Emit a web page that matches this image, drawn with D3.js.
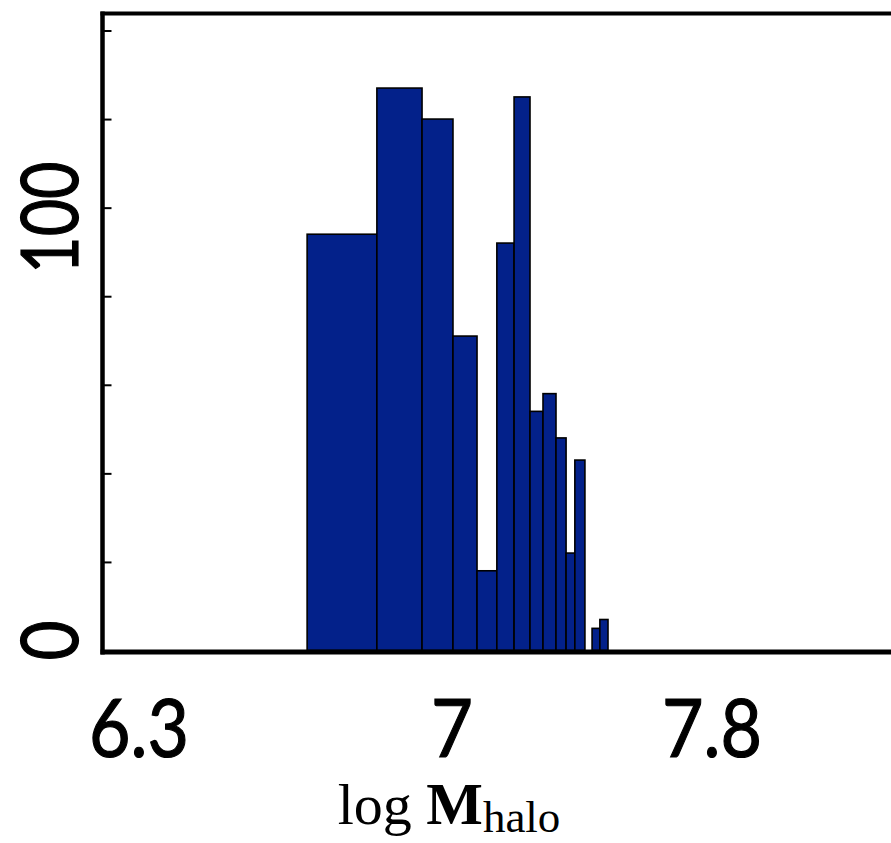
<!DOCTYPE html>
<html>
<head>
<meta charset="utf-8">
<script src="https://cdn.jsdelivr.net/npm/d3@7"></script>
<style>
  html, body { margin: 0; padding: 0; background: #fff; }
  svg { display: block; }
</style>
</head>
<body>
<svg id="chart" width="891" height="843"></svg>
<script>
// ---- data ----
const binEdges = [6.676, 6.832, 6.933, 7.003, 7.077, 7.138, 7.191, 7.240, 7.280, 7.320, 7.351, 7.378, 7.409, 7.431, 7.455, 7.480];
const counts   = [94, 127, 120, 71, 18, 92, 125, 54, 58, 48, 22, 43, 0, 5, 7];
const xTickLabels = [6.3, 7, 7.8];
const yMinorTicks = [20, 40, 60, 80, 100, 120, 140];
const yTickLabels = [0, 100];

// ---- layout ----
const svg = d3.select("#chart");
const W = 891, H = 843;
const plotLeft = 102.5, plotBottom = 650.5, plotTop = 13.5;

// the axis in the original is not uniform between the labelled ticks
const x = d3.scaleLinear().domain(xTickLabels).range([139, 452, 712]);
const y = d3.scaleLinear().domain([0, 140]).range([plotBottom, 30.5]);

const bins = counts.map((c, i) => ({ x0: binEdges[i], x1: binEdges[i + 1], n: c }));

// bars
svg.append("g").selectAll("rect")
  .data(bins.filter(d => d.n > 0))
  .join("rect")
  .attr("x", d => x(d.x0))
  .attr("y", d => y(d.n))
  .attr("width", d => x(d.x1) - x(d.x0))
  .attr("height", d => y(0) - y(d.n))
  .attr("fill", "#03218a")
  .attr("stroke", "#000")
  .attr("stroke-width", 1.6);

// inward minor ticks on the y axis
const yAxis = d3.axisRight(y).tickValues(yMinorTicks).tickSize(8).tickFormat("");
const gy = svg.append("g").attr("transform", `translate(${plotLeft + 1},0)`).call(yAxis);
gy.select(".domain").remove();
gy.selectAll(".tick line").attr("stroke", "#000").attr("stroke-width", 2);

// frame lines (left, top, bottom)
svg.append("line").attr("x1", plotLeft).attr("x2", plotLeft).attr("y1", plotTop - 2).attr("y2", plotBottom + 4)
  .attr("stroke", "#000").attr("stroke-width", 4.5);
svg.append("line").attr("x1", plotLeft - 2).attr("x2", W).attr("y1", plotTop).attr("y2", plotTop)
  .attr("stroke", "#000").attr("stroke-width", 4);
svg.append("line").attr("x1", plotLeft - 2).attr("x2", W).attr("y1", plotBottom + 1.5).attr("y2", plotBottom + 1.5)
  .attr("stroke", "#000").attr("stroke-width", 5);

const sansFont = "Lato, 'Open Sans', sans-serif";

// y labels (rotated)
const yLabelShift = { 0: -10, 100: 10 };
svg.append("g").selectAll("text")
  .data(yTickLabels)
  .join("text")
  .attr("transform", d => `translate(78,${y(d) + yLabelShift[d]}) rotate(-90)`)
  .attr("text-anchor", "middle")
  .attr("font-family", sansFont)
  .attr("font-size", 79)
  .attr("fill", "#000")
  .attr("stroke", "#000")
  .attr("stroke-width", 1.2)
  .attr("textLength", d => String(d).length === 1 ? 40 : 112)
  .attr("lengthAdjust", "spacingAndGlyphs")
  .text(d => d);

// x labels
svg.append("g").selectAll("text")
  .data(xTickLabels)
  .join("text")
  .attr("x", d => x(d))
  .attr("y", 757)
  .attr("text-anchor", "middle")
  .attr("font-family", sansFont)
  .attr("font-size", 82)
  .attr("fill", "#000")
  .attr("stroke", "#000")
  .attr("stroke-width", 1.2)
  .attr("textLength", d => String(d).length === 1 ? 42 : 100)
  .attr("lengthAdjust", "spacingAndGlyphs")
  .text(d => d);

// x axis title: log M_halo
const title = svg.append("text")
  .attr("x", 449)
  .attr("y", 824)
  .attr("text-anchor", "middle")
  .attr("font-family", "'Liberation Serif', 'DejaVu Serif', serif")
  .attr("font-size", 58)
  .attr("fill", "#000");
title.append("tspan").text("log ");
title.append("tspan").attr("font-weight", "bold").attr("font-size", 60).text("M");
title.append("tspan").attr("font-size", 45).attr("dy", 8).text("halo");
</script>
</body>
</html>
